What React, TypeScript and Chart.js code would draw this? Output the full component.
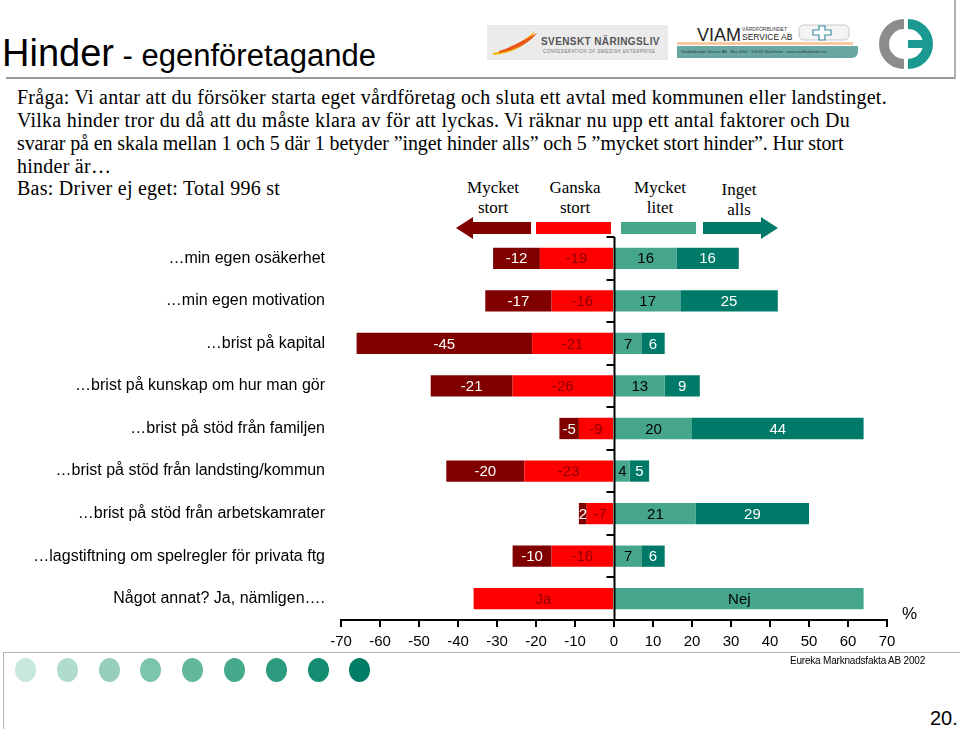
import React, { useEffect, useRef } from "react";
import { Chart, registerables } from "chart.js";

Chart.register(...registerables);

// ---------- DATA ----------
const categories = [
  "…min egen osäkerhet",
  "…min egen motivation",
  "…brist på kapital",
  "…brist på kunskap om hur man gör",
  "…brist på stöd från familjen",
  "…brist på stöd från landsting/kommun",
  "…brist på stöd från arbetskamrater",
  "…lagstiftning om spelregler för privata ftg",
  "Något annat? Ja, nämligen….",
];
const ganskaStort: (number | null)[] = [-19, -16, -21, -26, -9, -23, -7, -16, -36];
const mycketStort: (number | null)[] = [-12, -17, -45, -21, -5, -20, -2, -10, null];
const mycketLitet: (number | null)[] = [16, 17, 7, 13, 20, 4, 21, 7, 64];
const ingetAlls: (number | null)[] = [16, 25, 6, 9, 44, 5, 29, 6, null];
const otherAnswerLabels = ["Ja", "Nej"];
const xMin = -70;
const xMax = 70;
const xStep = 10;

const seriesNames = ["Ganska stort", "Mycket stort", "Mycket litet", "Inget alls"];
const seriesColors = ["#ff0000", "#800000", "#45a68b", "#007a68"];
const labelColors = ["#8a0000", "#ffffff", "#000000", "#ffffff"];
const dotColors = ["#c9e8dd", "#afdccc", "#96d0bc", "#7dc4ac", "#62b79c", "#47a98c", "#2c9b7f", "#148d73", "#007d66"];

const SANS = '"Liberation Sans", Arial, sans-serif';
const SERIF = '"Liberation Serif", "Times New Roman", serif';

const overlayPlugin = {
  id: "overlay",
  afterDatasetsDraw(chart: any) {
    const ctx = chart.ctx;
    ctx.save();
    ctx.font = `15px ${SANS}`;
    ctx.textAlign = "center";
    ctx.textBaseline = "middle";
    const last = chart.data.labels.length - 1;
    chart.data.datasets.forEach((ds: any, di: number) => {
      const meta = chart.getDatasetMeta(di);
      meta.data.forEach((el: any, i: number) => {
        const v = ds.data[i];
        if (v == null) return;
        const p = el.getProps(["x", "base", "y"], true);
        let text: string;
        if (i === last) text = v < 0 ? otherAnswerLabels[0] : otherAnswerLabels[1];
        else text = Math.abs(v) < 3 ? String(Math.abs(v)) : String(v);
        ctx.fillStyle = labelColors[di];
        ctx.fillText(text, (p.x + p.base) / 2, p.y + 1);
      });
    });
    // zero line and category ticks
    const xs = chart.scales.x;
    const zx = Math.round(xs.getPixelForValue(0)) + 0.5;
    const top = chart.chartArea.top;
    const bottom = chart.chartArea.bottom;
    ctx.strokeStyle = "#000";
    ctx.lineWidth = 2;
    ctx.beginPath();
    ctx.moveTo(zx, top);
    ctx.lineTo(zx, bottom);
    ctx.stroke();
    const n = chart.data.labels.length;
    const h = (bottom - top) / n;
    for (let i = 0; i < n; i++) {
      const y = Math.round(top + i * h);
      ctx.beginPath();
      ctx.moveTo(zx - 8, y);
      ctx.lineTo(zx, y);
      ctx.stroke();
    }
    ctx.restore();
  },
};

function ChartCanvas() {
  const ref = useRef<HTMLCanvasElement | null>(null);
  useEffect(() => {
    if (!ref.current) return;
    const seriesData = [ganskaStort, mycketStort, mycketLitet, ingetAlls];
    const chart = new Chart(ref.current, {
      type: "bar",
      data: {
        labels: categories,
        datasets: seriesData.map((d, i) => ({
          label: seriesNames[i],
          data: d,
          backgroundColor: seriesColors[i],
          borderWidth: 0,
          barPercentage: 0.5,
          categoryPercentage: 1,
        })),
      },
      options: {
        indexAxis: "y",
        responsive: false,
        animation: false,
        layout: { padding: { left: 0, right: 73, top: 7, bottom: 10 } },
        plugins: { legend: { display: false }, tooltip: { enabled: false } },
        scales: {
          x: {
            stacked: true,
            min: xMin,
            max: xMax,
            ticks: {
              stepSize: xStep,
              color: "#000",
              font: { family: SANS, size: 15 },
              padding: 6,
            },
            grid: { drawOnChartArea: false, drawTicks: true, tickLength: 7, color: "#000", lineWidth: 2 },
            border: { display: true, color: "#000", width: 2 },
            afterFit: (s: any) => {
              s.height = 40;
            },
          },
          y: {
            stacked: true,
            ticks: {
              color: "#000",
              font: { family: SANS, size: 16 },
              padding: 16,
              autoSkip: false,
            },
            grid: { display: false, drawTicks: false },
            border: { display: false },
            afterFit: (s: any) => {
              s.width = 341;
              s.paddingTop = 0;
              s.paddingBottom = 0;
            },
          },
        },
      },
      plugins: [overlayPlugin],
    } as any);
    return () => chart.destroy();
  }, []);
  return (
    <canvas
      ref={ref}
      width={960}
      height={440}
      style={{ position: "absolute", left: 0, top: 230, width: 960, height: 440 }}
    />
  );
}

function Arrow({ left, width, color, dir }: { left: number; width: number; color: string; dir: "l" | "r" }) {
  const head = 17;
  const pts =
    dir === "l"
      ? `0,11 ${head},0 ${head},5 ${width},5 ${width},17 ${head},17 ${head},22`
      : `${width},11 ${width - head},0 ${width - head},5 0,5 0,17 ${width - head},17 ${width - head},22`;
  return (
    <svg style={{ position: "absolute", left, top: 217 }} width={width} height={22}>
      <polygon points={pts} fill={color} />
    </svg>
  );
}

export default function App() {
  const abs = (o: React.CSSProperties): React.CSSProperties => ({ position: "absolute", whiteSpace: "nowrap", ...o });
  const headers = [
    { x: 493, t1: "Mycket", t2: "stort", dy: 0 },
    { x: 575, t1: "Ganska", t2: "stort", dy: 0 },
    { x: 660, t1: "Mycket", t2: "litet", dy: 0 },
    { x: 739, t1: "Inget", t2: "alls", dy: 2 },
  ];
  return (
    <div style={{ position: "absolute", left: 0, top: 0, width: 960, height: 729, overflow: "hidden", background: "#fff", color: "#000" }}>
      {/* Title */}
      <div style={abs({ left: 2, top: 34, fontFamily: SANS, fontSize: 38, lineHeight: "38px" })}>
        Hinder<span style={{ fontSize: 31 }}> - egenföretagande</span>
      </div>
      {/* top rules */}
      <div style={abs({ left: 6, top: 77, width: 949, height: 2, background: "#9a9a9a" })} />
      <div style={abs({ left: 954, top: 0, width: 2, height: 79, background: "#b0b0b0" })} />

      {/* Logo 1 */}
      <div style={abs({ left: 487, top: 25, width: 181, height: 35, background: "#ebebeb", overflow: "hidden" })}>
        <svg style={{ position: "absolute", left: 4, top: 4 }} width={50} height={28}>
          <path d="M2,24 C18,22 30,14 44,2 C36,16 24,24 2,26 Z" fill="#f5b800" />
          <path d="M8,22 C22,18 34,10 46,4 C38,14 28,20 8,24 Z" fill="#e8561a" />
        </svg>
        <div style={abs({ left: 54, top: 11, fontFamily: SANS, fontWeight: 700, fontSize: 10, color: "#555", letterSpacing: 0.4 })}>
          SVENSKT NÄRINGSLIV
        </div>
        <div style={abs({ left: 56, top: 24, fontFamily: SANS, fontSize: 4.5, color: "#777", letterSpacing: 0.4 })}>
          CONFEDERATION OF SWEDISH ENTERPRISE
        </div>
      </div>
      {/* Logo 2 */}
      <div style={abs({ left: 677, top: 22, width: 182, height: 40 })}>
        <div style={abs({ left: 0, top: 20, width: 176, height: 3, background: "#f6c9a0" })} />
        <div style={abs({ left: 0, top: 24, width: 181, height: 12, background: "#6aa7a3", borderRadius: "0 0 6px 0" })} />
        <div style={abs({ left: 4, top: 27, fontFamily: SANS, fontSize: 4, color: "#1d3d3b" })}>
          Vårdförbundet Service AB · Box 3260 · 103 65 Stockholm · www.vardforbundet.se
        </div>
        <div style={abs({ left: 20, top: 4, fontFamily: SANS, fontSize: 18, lineHeight: "18px", color: "#222" })}>VIAM</div>
        <div style={abs({ left: 65, top: 4, fontFamily: SANS, fontSize: 5, color: "#333" })}>VÅRDFÖRBUNDET</div>
        <div style={abs({ left: 65, top: 10, fontFamily: SANS, fontSize: 8.5, color: "#222" })}>SERVICE AB</div>
        <svg style={{ position: "absolute", left: 120, top: 0 }} width={56} height={22}>
          <rect x={2} y={3} width={50} height={15} rx={5} fill="#f4f4f4" stroke="#c8c8c8" />
          <path d="M22,4 h6 v4 h6 v5 h-6 v5 h-6 v-5 h-6 v-5 h6 Z" fill="#fff" stroke="#3a8fa0" strokeWidth={1.2} />
        </svg>
      </div>
      {/* Logo 3 */}
      <svg style={{ position: "absolute", left: 874, top: 18 }} width={64} height={52}>
        <path d="M30,6 A20,20 0 1 0 30,46" fill="none" stroke="#8c8c8c" strokeWidth={10} />
        <path d="M34,6 A20,20 0 1 1 34,46" fill="none" stroke="#1a9a93" strokeWidth={10} />
        <rect x={34} y={22} width={20} height={8} fill="#1a9a93" />
      </svg>

      {/* Question text */}
      <div style={abs({ left: 17, top: 86, fontFamily: SERIF, fontSize: 20, lineHeight: "23px", letterSpacing: 0.25 })}>
        <div>Fråga: Vi antar att du försöker starta eget vårdföretag och sluta ett avtal med kommunen eller landstinget.</div>
        <div>Vilka hinder tror du då att du måste klara av för att lyckas. Vi räknar nu upp ett antal faktorer och Du</div>
        <div style={{ letterSpacing: -0.1 }}>svarar på en skala mellan 1 och 5 där 1 betyder ”inget hinder alls” och 5 ”mycket stort hinder”. Hur stort</div>
        <div>hinder är…</div>
      </div>
      <div style={abs({ left: 17, top: 177, fontFamily: SERIF, fontSize: 20, lineHeight: "23px", letterSpacing: 0.25 })}>
        Bas: Driver ej eget: Total 996 st
      </div>

      {/* Column headers */}
      {headers.map((h) => (
        <div
          key={h.x}
          style={abs({ left: h.x - 45, top: 178 + h.dy, width: 90, textAlign: "center", fontFamily: SERIF, fontSize: 17, lineHeight: "20px" })}
        >
          <div>{h.t1}</div>
          <div>{h.t2}</div>
        </div>
      ))}
      <Arrow left={456} width={75} color={seriesColors[1]} dir="l" />
      <div style={abs({ left: 536, top: 222, width: 75, height: 12, background: seriesColors[0] })} />
      <div style={abs({ left: 621, top: 222, width: 75, height: 12, background: seriesColors[2] })} />
      <Arrow left={703} width={75} color={seriesColors[3]} dir="r" />

      <ChartCanvas />

      <div style={abs({ left: 902, top: 604, fontFamily: SANS, fontSize: 17 })}>%</div>

      {/* bottom decoration */}
      <div style={abs({ left: 3, top: 652, width: 957, height: 1, background: "#b5b5b5" })} />
      <div style={abs({ left: 3, top: 652, width: 1, height: 77, background: "#b5b5b5" })} />
      {dotColors.map((c, i) => (
        <div
          key={i}
          style={abs({ left: 15 + i * 41.8, top: 658, width: 21, height: 24, borderRadius: "50%", background: c })}
        />
      ))}
      <div style={abs({ left: 790, top: 655, fontFamily: SANS, fontSize: 10, letterSpacing: -0.2 })}>Eureka Marknadsfakta AB 2002</div>
      <div style={abs({ left: 930, top: 707, fontFamily: SANS, fontSize: 20 })}>20.</div>
    </div>
  );
}
